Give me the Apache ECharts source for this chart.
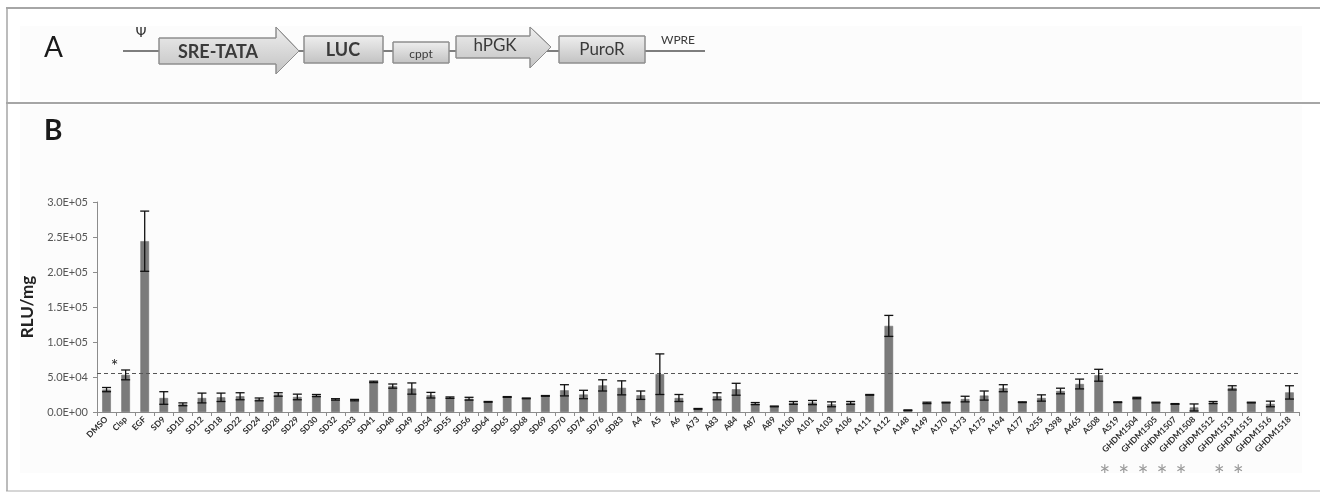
<!DOCTYPE html>
<html><head><meta charset="utf-8">
<script src="https://cdn.jsdelivr.net/npm/echarts@6/dist/echarts.min.js"></script>
<style>html,body{margin:0;padding:0;background:#fff}#c{width:1320px;height:493px}</style>
</head><body><div id="c"></div>
<script>
// ---- data ----
const categories = ['DMSO','Clsp','EGF','SD9','SD10','SD12','SD18','SD22','SD24','SD28','SD29','SD30','SD32','SD33','SD41','SD48','SD49','SD54','SD55','SD56','SD64','SD65','SD68','SD69','SD70','SD74','SD76','SD83','A4','A5','A6','A73','A83','A84','A87','A89','A100','A101','A103','A106','A111','A112','A148','A149','A170','A173','A175','A194','A177','A255','A398','A465','A508','A519','GHDM1504','GHDM1505','GHDM1507','GHDM1508','GHDM1512','GHDM1513','GHDM1515','GHDM1516','GHDM1518'];
const means = [32000,53000,244000,20000,11000,20000,21000,22500,18000,25000,21500,23500,18000,17000,43000,37000,33500,24000,20500,19000,14500,21500,19500,23000,31000,25000,38000,34500,24000,54000,20000,4500,22500,32500,12000,8000,13000,13500,11000,13000,24500,123000,2500,13000,13500,18500,23500,34000,14000,20000,30000,40000,52500,14000,20000,13500,11500,6500,13500,34500,13500,11500,28000];
const errors = [3000,7000,43000,9000,2000,7000,6000,5000,2000,2500,4000,1500,1000,1000,1000,3000,8000,4000,1000,2000,500,500,500,500,8000,6000,8000,10000,6000,29000,5000,500,5000,8500,1500,500,2000,3000,3500,2000,500,15000,500,1000,500,4000,6500,5000,500,4500,4000,7000,8500,500,1000,500,500,5000,1500,3000,500,4000,9500];
const thresholdValue = 55000;
const yTicks = {min: 0, max: 300000, interval: 50000};
const starredCategories = ['A519','GHDM1504','GHDM1505','GHDM1507','GHDM1508','GHDM1513','GHDM1515'];
const clspStar = {category: 'Clsp', value: 69000};

function sci(v){
  if (v === 0) return '0.0E+00';
  const e = Math.floor(Math.log10(Math.abs(v)));
  const m = v / Math.pow(10, e);
  return m.toFixed(1) + 'E' + (e < 0 ? '-' : '+') + String(Math.abs(e)).padStart(2,'0');
}

const FONT = 'Lato, "Open Sans", sans-serif';
const boxFill = {type:'linear',x:0,y:0,x2:0,y2:1,colorStops:[{offset:0,color:'#efefef'},{offset:1,color:'#c2c2c2'}]};
const boxStroke = '#8e8e8e';
const TXT = '#3a3a3a';

const panelA = [
  {type:'rect', silent:true, shape:{x:20,y:105,width:1282,height:368}, style:{fill:'#fcfcfc'}},
  {type:'rect', silent:true, shape:{x:20,y:26,width:1282,height:74}, style:{fill:'#fcfcfc'}},
  {type:'line', shape:{x1:6,y1:8,x2:1320,y2:8}, style:{stroke:'#a6a6a6', lineWidth:2}},
  {type:'line', shape:{x1:6,y1:103,x2:1320,y2:103}, style:{stroke:'#a6a6a6', lineWidth:2}},
  {type:'line', shape:{x1:6,y1:491,x2:1320,y2:491}, style:{stroke:'#c8c8c8', lineWidth:1.5}},
  {type:'line', shape:{x1:7,y1:8,x2:7,y2:491}, style:{stroke:'#a6a6a6', lineWidth:1.5}},
  {type:'text', style:{text:'A', x:44, y:48, fontSize:28, fontWeight:'normal', fontFamily:FONT, fill:'#1a1a1a', verticalAlign:'middle'}},
  {type:'text', style:{text:'B', x:44, y:131, fontSize:28, fontWeight:'bold', fontFamily:FONT, fill:'#1a1a1a', verticalAlign:'middle'}},
  {type:'line', shape:{x1:123,y1:51,x2:705,y2:51}, style:{stroke:'#555', lineWidth:1.5}},
  {type:'text', style:{text:'Ψ', x:141, y:33, fontSize:14, fontFamily:'"DejaVu Sans"', fill:'#333', align:'center', verticalAlign:'middle'}},
  {type:'polygon', shape:{points:[[159,38],[276,38],[276,27],[299,51],[276,74],[276,64],[159,64]]}, style:{fill:boxFill, stroke:boxStroke, lineWidth:1}},
  {type:'text', style:{text:'SRE-TATA', x:218, y:52, fontSize:18, fontWeight:'bold', fontFamily:FONT, fill:TXT, align:'center', verticalAlign:'middle'}},
  {type:'rect', shape:{x:304,y:36,width:79,height:27}, style:{fill:boxFill, stroke:boxStroke, lineWidth:1}},
  {type:'text', style:{text:'LUC', x:343, y:50, fontSize:18, fontWeight:'bold', fontFamily:FONT, fill:TXT, align:'center', verticalAlign:'middle'}},
  {type:'rect', shape:{x:393,y:42,width:56,height:21}, style:{fill:boxFill, stroke:boxStroke, lineWidth:1}},
  {type:'text', style:{text:'cppt', x:421, y:54, fontSize:12, fontFamily:FONT, fill:TXT, align:'center', verticalAlign:'middle'}},
  {type:'polygon', shape:{points:[[456,36],[530,36],[530,27],[551,47],[530,68],[530,58],[456,58]]}, style:{fill:boxFill, stroke:boxStroke, lineWidth:1}},
  {type:'text', style:{text:'hPGK', x:495, y:46, fontSize:17, fontFamily:FONT, fill:TXT, align:'center', verticalAlign:'middle'}},
  {type:'rect', shape:{x:559,y:36,width:86,height:27}, style:{fill:boxFill, stroke:boxStroke, lineWidth:1}},
  {type:'text', style:{text:'PuroR', x:602, y:50, fontSize:17, fontFamily:FONT, fill:TXT, align:'center', verticalAlign:'middle'}},
  {type:'text', style:{text:'WPRE', x:678, y:40, fontSize:12, fontFamily:FONT, fill:TXT, align:'center', verticalAlign:'middle'}}
];

const chart = echarts.init(document.getElementById('c'), null, {renderer:'canvas'});
const option = {
  backgroundColor: '#ffffff',
  animation: false,
  graphic: panelA,
  grid: {left: 97, right: 21, top: 202, bottom: 81, containLabel: false},
  xAxis: {
    type: 'category', data: categories,
    axisLine: {lineStyle: {color: '#8c8c8c', width: 1}},
    axisTick: {show: true, alignWithLabel: false, length: 4, lineStyle: {color: '#8c8c8c'}},
    axisLabel: {interval: 0, rotate: 45, fontSize: 8.5, fontWeight: 'bold', color: '#2e2e2e', fontFamily: FONT, margin: 6}
  },
  yAxis: {
    type: 'value', min: yTicks.min, max: yTicks.max, interval: yTicks.interval,
    name: 'RLU/mg', nameLocation: 'middle', nameGap: 60,
    nameTextStyle: {fontSize: 17, fontWeight: 'bold', color: '#222', fontFamily: FONT},
    axisLine: {show: true, lineStyle: {color: '#8c8c8c'}},
    axisTick: {show: true, length: 4, lineStyle: {color: '#8c8c8c'}},
    splitLine: {show: false},
    axisLabel: {formatter: sci, fontSize: 11, color: '#555', fontFamily: FONT, margin: 9}
  },
  series: [
    {
      type: 'bar', data: means, barWidth: '45%',
      itemStyle: {color: '#7b7b7b', borderColor: '#6a6a6a', borderWidth: 0.5},
      markLine: {
        silent: true, symbol: 'none', label: {show: false},
        lineStyle: {type: [4, 3], color: '#555', width: 1},
        data: [{yAxis: thresholdValue}]
      }
    },
    {
      type: 'custom',
      data: means.map((m, i) => [i, m - errors[i], m + errors[i]]),
      encode: {x: 0, y: [1, 2]},
      z: 5,
      renderItem: function (params, api) {
        const lo = api.coord([api.value(0), api.value(1)]);
        const hi = api.coord([api.value(0), api.value(2)]);
        const hw = 4.5;
        const st = {stroke: '#111', lineWidth: 1.3};
        return {type: 'group', children: [
          {type: 'line', shape: {x1: hi[0], y1: hi[1], x2: lo[0], y2: lo[1]}, style: st},
          {type: 'line', shape: {x1: hi[0] - hw, y1: hi[1], x2: hi[0] + hw, y2: hi[1]}, style: st},
          {type: 'line', shape: {x1: lo[0] - hw, y1: lo[1], x2: lo[0] + hw, y2: lo[1]}, style: st}
        ]};
      }
    }
  ]
};
chart.setOption(option);

const extra = [];
const sp = chart.convertToPixel({xAxisIndex: 0, yAxisIndex: 0}, [clspStar.category, clspStar.value]);
extra.push({type:'text', style:{text:'*', x: sp[0] - 11, y: sp[1] + 2, fontSize: 18, fontFamily: FONT, fill:'#222', align:'center', verticalAlign:'middle'}});
const axisY = chart.convertToPixel({yAxisIndex: 0}, 0);
starredCategories.forEach(c => {
  const px = chart.convertToPixel({xAxisIndex: 0}, c);
  extra.push({type:'text', style:{text:'*', x: px - 13, y: axisY + 65, fontSize: 26, fontFamily: FONT, fill:'#9a9a9a', align:'center', verticalAlign:'middle'}});
});
chart.setOption({graphic: panelA.concat(extra)});
</script></body></html>
